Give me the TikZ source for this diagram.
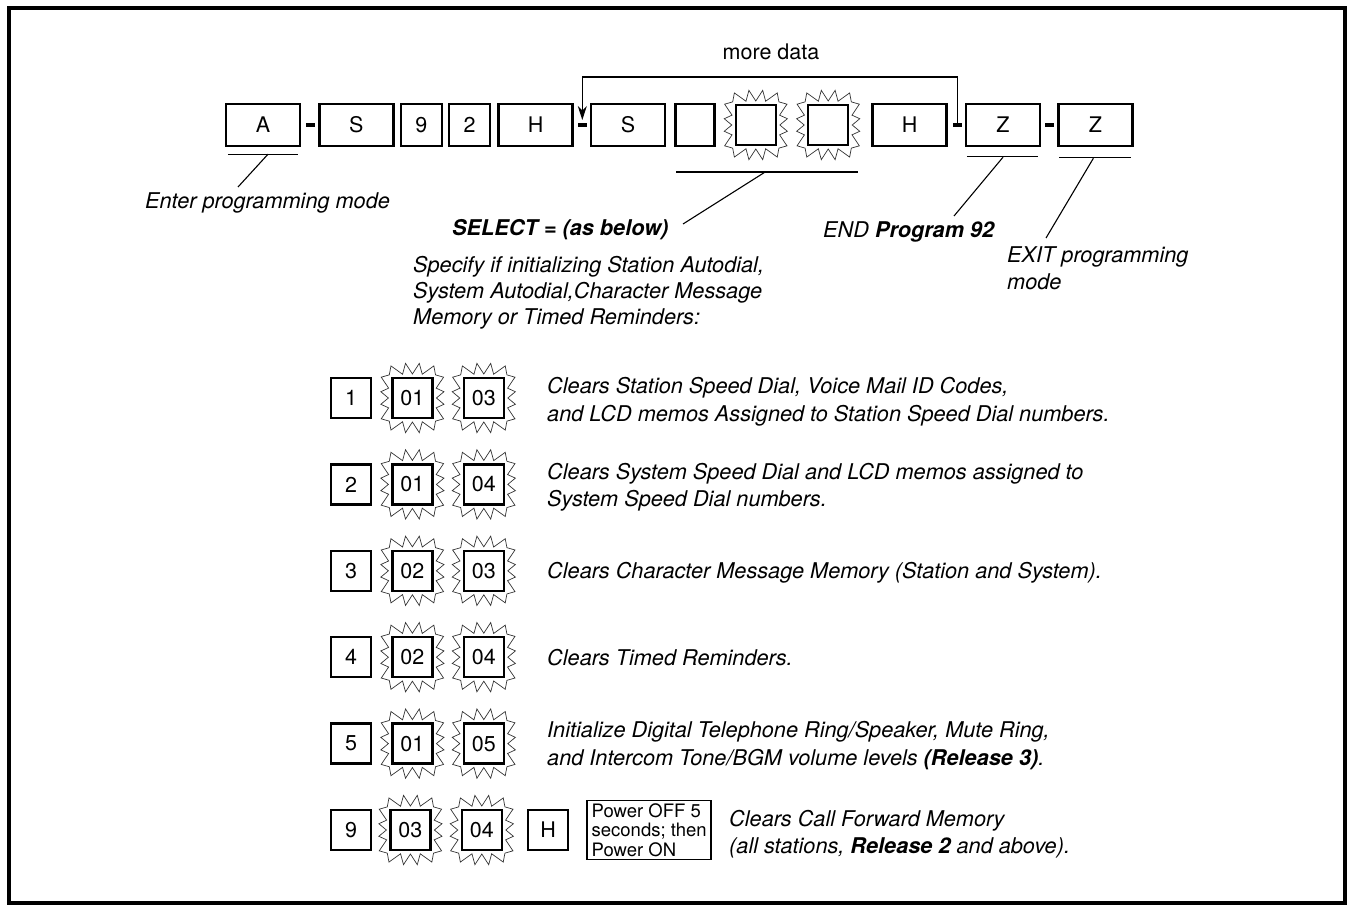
\documentclass[tikz,border=0pt]{standalone}
\usepackage{fontspec}
\setmainfont{TeX Gyre Heros}
\usetikzlibrary{positioning, calc, arrows.meta}

\begin{document}
\begin{tikzpicture}[
    x=1pt, y=-1pt,
    node distance=5pt,
    keybox/.style={rectangle, draw, line width=2.4pt, minimum height=42pt, inner sep=0pt, font=\fontsize{21.5}{24}\selectfont},
    keywide/.style={keybox, minimum width=74pt},
    keynarrow/.style={keybox, minimum width=41pt},
    keysq/.style={keybox, minimum width=40pt, minimum height=40pt},
    flashbox/.style={keysq},
    dashmark/.style={rectangle, fill=black, minimum width=9pt, minimum height=4pt, inner sep=0pt, outer sep=0pt},
    note/.style={font=\fontsize{21.7}{27.5}\selectfont\itshape, align=left, inner sep=0pt, anchor=west},
    powerbox/.style={rectangle, draw, line width=1.6pt, align=left, inner sep=3pt, minimum width=124pt, font=\fontsize{18.5}{19.5}\selectfont},
    pointer/.style={line width=1.1pt},
    arrow/.style={-{Stealth[length=14pt, width=9pt]}, line width=1.2pt},
    frame/.style={line width=4pt},
    burst/.pic={
        \draw[line width=0.7pt, black!80] (0:24)
            \foreach \k in {1,...,31}{
                -- ({\k*11.25}:{21/max(abs(cos(\k*11.25)),abs(sin(\k*11.25)))+ifthenelse(mod(\k,2)==0,3,10+4*abs(sin(\k*11.25)))})
            } -- cycle;
    }
]
\useasboundingbox (0,0) rectangle (1348,907);
\draw[frame] (9,8) rectangle (1345,903);

% Nodes - key sequence
\node[keywide] (keyA) at (263,125) {A};
\node[dashmark, right=5pt of keyA] (d1) {};
\node[keywide, right=3pt of d1] (keyS) {S};
\node[keynarrow, right=5pt of keyS] (key9) {9};
\node[keynarrow, right=5pt of key9] (key2) {2};
\node[keywide, right=6pt of key2] (keyH) {H};
\node[dashmark, right=4pt of keyH] (d2) {};
\node[keywide, right=3pt of d2] (keyS2) {S};
\node[keynarrow, minimum width=39pt, right=8pt of keyS2] (keyE) {};
\node[flashbox, right=19pt of keyE] (fA) {};
\node[flashbox, right=30pt of fA] (fB) {};
\node[keywide, right=22pt of fB] (keyH2) {H};
\node[dashmark, right=5pt of keyH2] (d3) {};
\node[keywide, right=3pt of d3] (keyZ) {Z};
\node[dashmark, right=4pt of keyZ] (d4) {};
\node[keywide, right=3pt of d4] (keyZ2) {Z};
\pic at (fA) {burst};
\pic at (fB) {burst};

% Nodes - select rows
\node[keysq] (k1) at (351,398) {1};
\node[flashbox, right=19pt of k1] (f1a) {01};
\node[flashbox, right=29pt of f1a] (f1b) {03};
\node[keysq, below=44pt of k1] (k2) {2};
\node[flashbox, right=19pt of k2] (f2a) {01};
\node[flashbox, right=29pt of f2a] (f2b) {04};
\node[keysq, below=44pt of k2] (k3) {3};
\node[flashbox, right=19pt of k3] (f3a) {02};
\node[flashbox, right=29pt of f3a] (f3b) {03};
\node[keysq, below=44pt of k3] (k4) {4};
\node[flashbox, right=19pt of k4] (f4a) {02};
\node[flashbox, right=29pt of f4a] (f4b) {04};
\node[keysq, below=44pt of k4] (k5) {5};
\node[flashbox, right=19pt of k5] (f5a) {01};
\node[flashbox, right=29pt of f5a] (f5b) {05};
\node[keysq, below=44pt of k5] (k6) {9};
\node[flashbox, right=17pt of k6] (f6a) {03};
\node[flashbox, right=29pt of f6a] (f6b) {04};
\node[keysq, right=24pt of f6b] (k6h) {H};
\node[powerbox, right=17pt of k6h] (power) {Power OFF 5\\seconds; then\\Power ON};
\foreach \f in {f1a,f1b,f2a,f2b,f3a,f3b,f4a,f4b,f5a,f5b,f6a,f6b}
    \pic at (\f) {burst};

% Labels
\node[font=\fontsize{21.5}{24}\selectfont] (moredata) at (771,52) {more data};
\node[note] (enter) at (145,203) {Enter programming mode};
\node[note, font=\fontsize{21.7}{27}\selectfont\bfseries\itshape] (select) at (452,230) {SELECT = (as below)};
\node[note, anchor=north west, font=\fontsize{21.7}{26}\selectfont\itshape] (specify) at (413,256)
    {Specify if initializing Station Autodial,\\System Autodial,Character Message\\Memory or Timed Reminders:};
\node[note] (endprog) at (823,232) {END \textbf{Program 92}};
\node[note] (exitprog) at (1007,268) {EXIT programming\\mode};
\node[note, right=42pt of f1b, yshift=-4pt] (t1) {Clears Station Speed Dial, Voice Mail ID Codes,\\and LCD memos Assigned to Station Speed Dial numbers.};
\node[note, right=42pt of f2b, yshift=-3pt] (t2) {Clears System Speed Dial and LCD memos assigned to\\System Speed Dial numbers.};
\node[note, right=42pt of f3b, yshift=-2pt] (t3) {Clears Character Message Memory (Station and System).};
\node[note, right=42pt of f4b] (t4) {Clears Timed Reminders.};
\node[note, right=42pt of f5b, yshift=-2pt] (t5) {Initialize Digital Telephone Ring/Speaker, Mute Ring,\\and Intercom Tone/BGM volume levels \textbf{(Release 3)}.};
\node[note, right=17pt of power, yshift=-4pt] (t6) {Clears Call Forward Memory\\(all stations, \textbf{Release 2} and above).};

% Arrows
\coordinate (loopTop) at (770,77);
\draw[arrow, shorten >=3pt] (d3.north) |- (loopTop) -| (d2.north);

% Pointers
\coordinate (enterTip) at (238,187);
\coordinate (selectL) at (676,172);
\coordinate (selectR) at (858,172);
\coordinate (selectTip) at (683,224);
\coordinate (endTip) at (954,216);
\coordinate (exitTip) at (1046,238);
\draw[pointer] ([shift={(3,7)}]keyA.south west) -- ([shift={(-3,7)}]keyA.south east);
\draw[pointer] ([shift={(5,7)}]keyA.south) -- (enterTip);
\draw[pointer] (selectL) -- (selectR);
\draw[pointer] ($(selectL)!0.49!(selectR)$) -- (selectTip);
\draw[pointer] ([shift={(2,9)}]keyZ.south west) -- ([shift={(-3,9)}]keyZ.south east);
\draw[pointer] ([shift={(0,10)}]keyZ.south) -- (endTip);
\draw[pointer] ([shift={(2,10)}]keyZ2.south west) -- ([shift={(-3,10)}]keyZ2.south east);
\draw[pointer] ([shift={(-2,11)}]keyZ2.south) -- (exitTip);

\end{tikzpicture}
\end{document}
